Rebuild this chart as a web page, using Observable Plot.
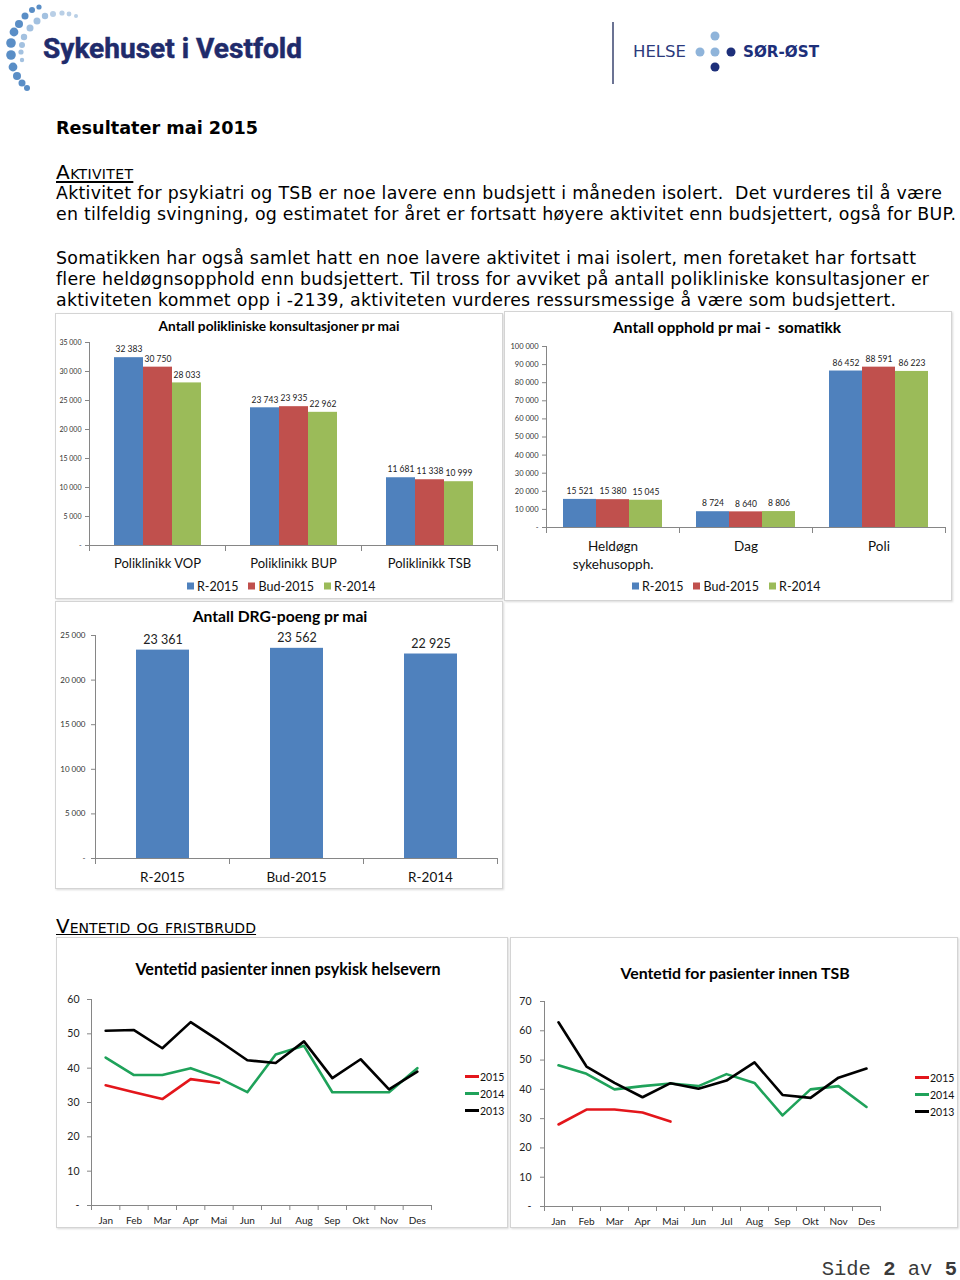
<!DOCTYPE html>
<html><head><meta charset="utf-8">
<script src="https://cdn.jsdelivr.net/npm/d3@7"></script>
<script src="https://cdn.jsdelivr.net/npm/@observablehq/plot@0.6"></script>
<style>
html,body{margin:0;padding:0;background:#fff;}
#page{position:relative;width:960px;height:1280px;overflow:hidden;font-family:"DejaVu Sans",Verdana,sans-serif;color:#000;}
.abs{position:absolute;white-space:nowrap;}
.box{position:absolute;border:1px solid #d4d4d4;box-shadow:1px 1px 2px rgba(0,0,0,0.15);background:#fff;box-sizing:border-box;}
.ctitle{position:absolute;font-family:Lato,"Open Sans",sans-serif;font-weight:700;white-space:nowrap;transform:translate(-50%,-50%);color:#000;}
.body{position:absolute;left:56px;white-space:nowrap;font-size:15.5px;line-height:21px;}
.sc{font-variant:small-caps;text-decoration:underline;font-size:15.5px;line-height:21px;}
.leg{position:absolute;font-family:Lato,"Open Sans",sans-serif;font-size:12.5px;white-space:nowrap;display:flex;align-items:center;transform:translateY(-50%);color:#111;}
.leg .sq{display:inline-block;width:7px;height:7px;margin-right:3px;}
.leg .it{display:flex;align-items:center;margin-right:10px;}
.lleg{position:absolute;font-family:Lato,"Open Sans",sans-serif;font-size:10.5px;color:#111;}
.lleg .row{display:flex;align-items:center;height:17px;}
.lleg .sw{display:inline-block;width:14px;height:2.5px;margin-right:1px;}
.chart{position:absolute;}
</style>
</head>
<body>
<div id="page">
  <svg class="abs" style="left:0;top:0" width="960" height="100">
    <g fill="#5a8ec6">
      <circle cx="39" cy="7" r="2.6"/><circle cx="32" cy="10" r="3"/><circle cx="25" cy="16" r="3.5"/><circle cx="19" cy="24" r="4"/><circle cx="14" cy="32" r="4.4"/><circle cx="11" cy="43" r="4.8"/><circle cx="11" cy="55" r="4.8"/><circle cx="13" cy="67" r="4.4"/><circle cx="17" cy="76" r="4"/><circle cx="22" cy="83" r="3.5"/><circle cx="27" cy="88" r="3"/>
    </g>
    <g fill="#a3c1e0">
      <circle cx="45" cy="16" r="3.2"/><circle cx="37" cy="21" r="3.5"/><circle cx="30" cy="28" r="3.5"/><circle cx="24" cy="37" r="3.2"/><circle cx="22" cy="45" r="3"/><circle cx="21" cy="52" r="2.6"/><circle cx="22" cy="60" r="2.2"/>
    </g>
    <g fill="#b9cfe6">
      <circle cx="53" cy="14" r="3"/><circle cx="62" cy="13" r="2.6"/><circle cx="69" cy="14" r="2.4"/><circle cx="76" cy="16" r="2"/>
    </g>
    <text x="43" y="58" font-family="Roboto,'DejaVu Sans',sans-serif" font-weight="700" font-size="27" fill="#1f2b6b" stroke="#1f2b6b" stroke-width="0.5" textLength="259" lengthAdjust="spacingAndGlyphs">Sykehuset i Vestfold</text>
    <line x1="613" y1="22" x2="613" y2="84" stroke="#6b7393" stroke-width="2"/>
    <text x="633" y="57" font-family="'DejaVu Sans',sans-serif" font-size="15" fill="#2b3a7c" textLength="53" lengthAdjust="spacingAndGlyphs">HELSE</text>
    <circle cx="715" cy="36" r="4.5" fill="#8fb4da"/>
    <circle cx="700" cy="52" r="4.5" fill="#8fb4da"/>
    <circle cx="715" cy="52" r="4.5" fill="#8fb4da"/>
    <circle cx="731" cy="52" r="4.5" fill="#1d2f7a"/>
    <circle cx="715" cy="67" r="4.5" fill="#1d2f7a"/>
    <text x="743" y="57" font-family="'DejaVu Sans',sans-serif" font-weight="700" font-size="15" fill="#1d2f7a" textLength="76" lengthAdjust="spacingAndGlyphs">SØR-ØST</text>
  </svg>

  <div class="abs fit" data-w="202" style="left:56px;top:117px;font-size:18px;font-weight:700;line-height:22px;">Resultater mai 2015</div>
  <div class="abs sc fit" data-w="77" data-max="1.3" style="left:56px;top:162px;">Aktivitet</div>
  <div class="body fit" data-w="886" style="top:183px;">Aktivitet for psykiatri og TSB er noe lavere enn budsjett i måneden isolert.&nbsp; Det vurderes til å være</div>
  <div class="body fit" data-w="900" style="top:204px;">en tilfeldig svingning, og estimatet for året er fortsatt høyere aktivitet enn budsjettert, også for BUP.</div>
  <div class="body fit" data-w="860" style="top:248px;">Somatikken har også samlet hatt en noe lavere aktivitet i mai isolert, men foretaket har fortsatt</div>
  <div class="body fit" data-w="873" style="top:269px;">flere heldøgnsopphold enn budsjettert. Til tross for avviket på antall polikliniske konsultasjoner er</div>
  <div class="body fit" data-w="840" style="top:290px;">aktiviteten kommet opp i -2139, aktiviteten vurderes ressursmessige å være som budsjettert.</div>

  <div class="box" style="left:55px;top:313px;width:448px;height:286px;"></div>
  <div class="box" style="left:504px;top:311px;width:448px;height:290px;"></div>
  <div class="box" style="left:55px;top:601px;width:448px;height:288px;"></div>
  <div class="box" style="left:56px;top:937px;width:452px;height:291px;"></div>
  <div class="box" style="left:510px;top:937px;width:448px;height:291px;"></div>

  <div class="abs sc fit" data-w="200" data-max="1.3" style="left:56px;top:916px;">Ventetid og fristbrudd</div>

  <div class="ctitle" style="left:279px;top:325px;font-size:13.7px;">Antall polikliniske konsultasjoner pr mai</div>
  <div class="ctitle" style="left:727px;top:327px;font-size:15.5px;">Antall opphold pr mai -&nbsp; somatikk</div>
  <div class="ctitle" style="left:280px;top:616px;font-size:15.7px;">Antall DRG-poeng pr mai</div>
  <div class="ctitle" style="left:288px;top:968px;font-size:16.1px;">Ventetid pasienter innen psykisk helsevern</div>
  <div class="ctitle" style="left:735px;top:972px;font-size:15.9px;">Ventetid for pasienter innen TSB</div>

  <div id="c1" class="chart" style="left:55px;top:313px;"></div>
  <div id="c2" class="chart" style="left:504px;top:311px;"></div>
  <div id="c3" class="chart" style="left:55px;top:601px;"></div>
  <div id="c4" class="chart" style="left:56px;top:937px;"></div>
  <div id="c5" class="chart" style="left:510px;top:937px;"></div>

  <div id="leg1" class="leg" style="left:187px;top:586px;"></div>
  <div id="leg2" class="leg" style="left:632px;top:586px;"></div>
  <div id="leg4" class="lleg" style="left:465px;top:1068px;"></div>
  <div id="leg5" class="lleg" style="left:915px;top:1069px;"></div>

  <div class="abs" style="right:3px;top:1263px;font-family:'Liberation Mono','DejaVu Sans Mono',monospace;font-size:20.5px;line-height:14px;color:#3a3a3a;">Side <b>2</b> av <b>5</b></div>
</div>

<script>
// ---------- data ----------
const barSeries = ["R-2015", "Bud-2015", "R-2014"];
const barColors = ["#4f81bd", "#c0504d", "#9bbb59"];

const poliCategories = ["Poliklinikk VOP", "Poliklinikk BUP", "Poliklinikk TSB"];
const poliR2015 = [32383, 23743, 11681];
const poliBud2015 = [30750, 23935, 11338];
const poliR2014 = [28033, 22962, 10999];

const oppholdCategories = ["Heldøgn\nsykehusopph.", "Dag", "Poli"];
const oppholdR2015 = [15521, 8724, 86452];
const oppholdBud2015 = [15380, 8640, 88591];
const oppholdR2014 = [15045, 8806, 86223];

const drgCategories = ["R-2015", "Bud-2015", "R-2014"];
const drgValues = [23361, 23562, 22925];

const months = ["Jan","Feb","Mar","Apr","Mai","Jun","Jul","Aug","Sep","Okt","Nov","Des"];
const lineSeries = ["2015", "2014", "2013"];
const lineColors = ["#e3161b", "#1fa25a", "#000000"];

const psyk2015 = [35, 33, 31, 36.8, 35.7];
const psyk2014 = [43.1, 38, 38, 40, 37.1, 33, 44, 46.5, 33, 33, 33, 40];
const psyk2013 = [50.9, 51.1, 45.8, 53.4, 48, 42.3, 41.5, 47.8, 37.1, 42.6, 33.8, 39];

const tsb2015 = [28, 33.1, 33.1, 32.1, 29];
const tsb2014 = [48.2, 45.3, 40, 41.1, 42, 41.1, 45.2, 42.2, 31.1, 40, 41.1, 34];
const tsb2013 = [62.9, 47.8, 42.2, 37.3, 42.1, 40.2, 43, 49.2, 38.1, 37.1, 44, 47.1];

// ---------- helpers ----------
const axisColor = "#868686";
const numFmt = v => d3.format(",")(v).replace(/,/g, "\u202f");
const axisFmt = v => v === 0 ? "-" : numFmt(v);
const FONT = "Lato, 'Open Sans', sans-serif";

function groupedBars(o) {
  const data = [];
  o.cats.forEach((c, i) => o.series.forEach((s, j) => data.push({cat: c, series: s, value: o.values[j][i]})));
  const plotH = o.height - o.mt - o.mb;
  return Plot.plot({
    width: o.width, height: o.height,
    marginTop: o.mt, marginBottom: o.mb, marginLeft: o.ml, marginRight: o.mr,
    style: {fontFamily: FONT, background: "transparent", color: "#222", overflow: "visible"},
    fx: {domain: o.cats, padding: 0, axis: null, label: null},
    x: {domain: o.series, paddingInner: 0, paddingOuter: o.po, axis: null},
    y: {domain: [0, o.yMax], axis: null},
    color: {domain: o.series, range: o.colors},
    marks: [
      Plot.barY(data, {fx: "cat", x: "series", y: "value", fill: "series"}),
      Plot.frame({anchor: "left", facetAnchor: "left", stroke: axisColor}),
      Plot.axisY({ticks: d3.range(0, o.yMax + 1, o.yStep), tickFormat: axisFmt, tickSize: 4, tickPadding: o.yPad, fontSize: o.yFont, stroke: axisColor, fill: "#333", label: null}),
      Plot.ruleY([0], {stroke: axisColor}),
      Plot.frame({anchor: "left", insetTop: plotH, insetBottom: -5, stroke: axisColor}),
      Plot.frame({anchor: "right", insetTop: plotH, insetBottom: -5, stroke: axisColor}),
      Plot.axisFx({anchor: "bottom", tickSize: 0, tickPadding: o.fxPad, fontSize: o.xFont, label: null, lineHeight: 1.3, fill: "#111"}),
      Plot.text(data, {fx: "cat", x: "series", y: "value", text: d => numFmt(d.value), dy: o.labelDy, fontSize: o.labelFont, fill: "#222"})
    ]
  });
}

function lineChart(o) {
  const data = [];
  o.series.forEach((s, j) => o.values[j].forEach((v, i) => data.push({series: s, i, v})));
  return Plot.plot({
    width: o.width, height: o.height,
    marginTop: o.mt, marginBottom: o.mb, marginLeft: o.ml, marginRight: o.mr,
    style: {fontFamily: FONT, background: "transparent", color: "#222", overflow: "visible"},
    x: {domain: [-0.5, months.length - 0.5], axis: null},
    y: {domain: [0, o.yMax], axis: null},
    color: {domain: o.series, range: o.colors},
    marks: [
      Plot.ruleX([-0.5], {stroke: axisColor}),
      Plot.axisY({ticks: d3.range(0, o.yMax + 1, 10), tickFormat: v => v === 0 ? "-" : String(v), tickSize: 4, tickPadding: o.yPad, fontSize: 10.5, stroke: axisColor, fill: "#222", label: null}),
      Plot.ruleY([0], {stroke: axisColor}),
      Plot.axisX({ticks: d3.range(-0.5, months.length, 1), tickFormat: () => "", tickSize: 5, stroke: axisColor, label: null}),
      Plot.axisX({ticks: d3.range(months.length), tickFormat: i => months[i], tickSize: 0, tickPadding: 11, fontSize: 10, fill: "#222", label: null}),
      Plot.lineY(data, {x: "i", y: "v", z: "series", stroke: "series", strokeWidth: 2.6})
    ]
  });
}

function barLegend(el, names, colors) {
  names.forEach((n, i) => {
    const it = document.createElement("span"); it.className = "it";
    const sq = document.createElement("span"); sq.className = "sq"; sq.style.background = colors[i];
    it.appendChild(sq); it.appendChild(document.createTextNode(n));
    el.appendChild(it);
  });
}
function lineLegend(el, names, colors) {
  names.forEach((n, i) => {
    const r = document.createElement("div"); r.className = "row";
    const sw = document.createElement("span"); sw.className = "sw"; sw.style.background = colors[i];
    r.appendChild(sw); r.appendChild(document.createTextNode(n));
    el.appendChild(r);
  });
}

// ---------- charts ----------
document.getElementById("c1").appendChild(groupedBars({
  cats: poliCategories, series: barSeries, colors: barColors,
  values: [poliR2015, poliBud2015, poliR2014],
  yMax: 35000, yStep: 5000, width: 447, height: 262, mt: 29, mb: 30, ml: 34, mr: 5,
  po: 0.78, yFont: 7, yPad: 4, xFont: 13, fxPad: 10, labelFont: 8.5, labelDy: -8
}));
document.getElementById("c2").appendChild(groupedBars({
  cats: oppholdCategories, series: barSeries, colors: barColors,
  values: [oppholdR2015, oppholdBud2015, oppholdR2014],
  yMax: 100000, yStep: 10000, width: 447, height: 264, mt: 35, mb: 48, ml: 42, mr: 6,
  po: 0.515, yFont: 7.5, yPad: 4, xFont: 13.5, fxPad: 11, labelFont: 8.5, labelDy: -8
}));
document.getElementById("c3").appendChild(groupedBars({
  cats: drgCategories, series: ["DRG"], colors: [barColors[0]],
  values: [drgValues],
  yMax: 25000, yStep: 5000, width: 447, height: 287, mt: 34, mb: 30, ml: 40, mr: 5,
  po: 0.75, yFont: 8, yPad: 6, xFont: 13.5, fxPad: 11, labelFont: 12.5, labelDy: -10
}));
document.getElementById("c4").appendChild(lineChart({
  series: lineSeries, colors: lineColors, values: [psyk2015, psyk2014, psyk2013],
  yMax: 60, width: 451, height: 290, mt: 62, mb: 22, ml: 35, mr: 76, yPad: 8
}));
document.getElementById("c5").appendChild(lineChart({
  series: lineSeries, colors: lineColors, values: [tsb2015, tsb2014, tsb2013],
  yMax: 70, width: 447, height: 290, mt: 64, mb: 21, ml: 34, mr: 77, yPad: 9
}));

barLegend(document.getElementById("leg1"), barSeries, barColors);
barLegend(document.getElementById("leg2"), barSeries, barColors);
lineLegend(document.getElementById("leg4"), lineSeries, lineColors);
lineLegend(document.getElementById("leg5"), lineSeries, lineColors);

// fit text lines to the widths measured on the reference page (scale font, then fine-tune spacing)
document.querySelectorAll(".fit").forEach(el => {
  el.style.display = "inline-block";
  const target = +el.dataset.w;
  const maxScale = el.dataset.max ? +el.dataset.max : 1.12;
  const fs = parseFloat(getComputedStyle(el).fontSize);
  const w0 = el.getBoundingClientRect().width;
  const nfs = Math.min(fs * target / w0, fs * maxScale);
  el.style.fontSize = nfs + "px";
  const w1 = el.getBoundingClientRect().width;
  const n = el.textContent.length;
  if (n > 1) el.style.letterSpacing = ((target - w1) / (n - 1)) + "px";
});
</script>
</body></html>
